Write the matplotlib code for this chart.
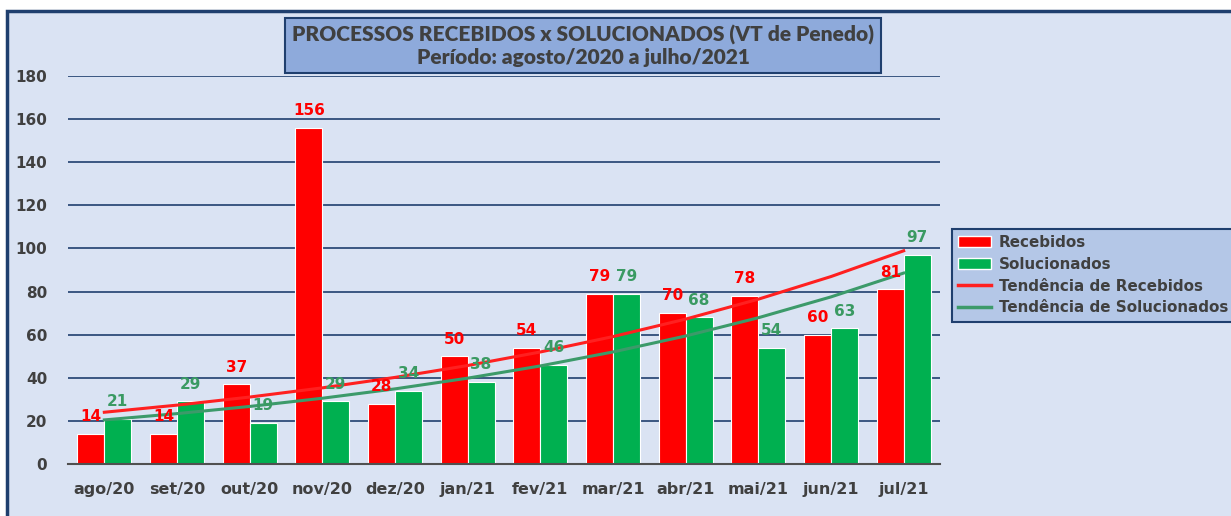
import numpy as np
import matplotlib.pyplot as plt
from matplotlib.patches import Rectangle
from matplotlib.lines import Line2D
from matplotlib.patches import Patch

meses = ['ago/20', 'set/20', 'out/20', 'nov/20', 'dez/20', 'jan/21',
         'fev/21', 'mar/21', 'abr/21', 'mai/21', 'jun/21', 'jul/21']
recebidos = [14, 14, 37, 156, 28, 50, 54, 79, 70, 78, 60, 81]
solucionados = [21, 29, 19, 29, 34, 38, 46, 79, 68, 54, 63, 97]

bg = '#dae3f3'
navy = '#1f3f6e'
verm = '#ff0000'
verde = '#00b050'
verde_txt = '#3a9a62'
cinza = '#404040'

fig = plt.figure(figsize=(12.31, 5.16), dpi=100)
fig.patch.set_facecolor('white')

# moldura do gráfico
W, H = 1231, 516
moldura = Rectangle((7 / W, -0.05), 1.1, 1 - 11 / H + 0.05,
                    transform=fig.transFigure, facecolor=bg,
                    edgecolor=navy, linewidth=2.5, zorder=-10)
fig.add_artist(moldura)

ax = fig.add_axes([68 / W, 1 - 464 / H, (940 - 68) / W, (464 - 76) / H])
ax.set_facecolor('none')

x = np.arange(len(meses))
w = 0.37
ax.bar(x - w / 2, recebidos, w, color=verm, edgecolor='white', linewidth=0.8, zorder=3)
ax.bar(x + w / 2, solucionados, w, color=verde, edgecolor='white', linewidth=0.8, zorder=3)

# linhas de tendência exponencial (como no Excel)
xs = x + 1
def tendencia(y):
    b, a = np.polyfit(xs, np.log(y), 1)
    return np.exp(a + b * xs)

ax.plot(x, tendencia(recebidos), color='#ff2020', lw=2.2, zorder=4)
ax.plot(x, tendencia(solucionados), color='#3c9a6a', lw=2.2, zorder=4)

for i in range(len(meses)):
    ax.text(x[i] - w / 2, recebidos[i] + 4.5, str(recebidos[i]), ha='center', va='bottom',
            color=verm, fontsize=11, fontweight='bold', zorder=5)
    ax.text(x[i] + w / 2, solucionados[i] + 4.5, str(solucionados[i]), ha='center', va='bottom',
            color=verde_txt, fontsize=11, fontweight='bold', zorder=5)

ax.set_xlim(-0.5, len(meses) - 0.5)
ax.set_ylim(0, 180)
ax.set_yticks(range(0, 181, 20))
ax.set_xticks(x)
ax.set_xticklabels(meses)
ax.tick_params(axis='both', length=0, labelcolor=cinza)
ax.tick_params(axis='y', pad=15, labelsize=11)
ax.tick_params(axis='x', pad=13, labelsize=11.5)
for lb in ax.get_xticklabels() + ax.get_yticklabels():
    lb.set_fontweight('bold')
ax.grid(axis='y', color=navy, lw=1.2, zorder=1)
for s in ['top', 'right', 'left']:
    ax.spines[s].set_visible(False)
ax.spines['bottom'].set_color('#505050')
ax.spines['bottom'].set_linewidth(1.5)
ax.spines['bottom'].set_zorder(6)

# título em caixa
fig.text(583 / W, 1 - 46 / H,
         'PROCESSOS RECEBIDOS x SOLUCIONADOS (VT de Penedo)\nPeríodo: agosto/2020 a julho/2021',
         ha='center', va='center', fontsize=15, fontweight='heavy', color=cinza,
         family=['Lato', 'DejaVu Sans'], linespacing=1.15,
         bbox=dict(boxstyle='square,pad=0.32', facecolor='#8eaadb', edgecolor=navy, lw=1.5))

# legenda
handles = [Patch(facecolor=verm, edgecolor='white'),
           Patch(facecolor=verde, edgecolor='white'),
           Line2D([], [], color='#ff2020', lw=2.5),
           Line2D([], [], color='#3c9a6a', lw=2.5)]
labels = ['Recebidos', 'Solucionados', 'Tendência de Recebidos', 'Tendência de Solucionados']
leg = fig.legend(handles, labels, loc='upper left', bbox_to_anchor=(952 / W, 1 - 229 / H),
                 frameon=True, fancybox=False, prop={'weight': 'bold', 'size': 10.9},
                 labelcolor=cinza, handlelength=2.2, handletextpad=0.5,
                 labelspacing=0.45, borderpad=0.4, borderaxespad=0)
leg.get_frame().set_facecolor('#b4c7e7')
leg.get_frame().set_edgecolor(navy)
leg.get_frame().set_linewidth(1.5)
leg.get_frame().set_alpha(1)

fig.savefig('out.png', dpi=100)
